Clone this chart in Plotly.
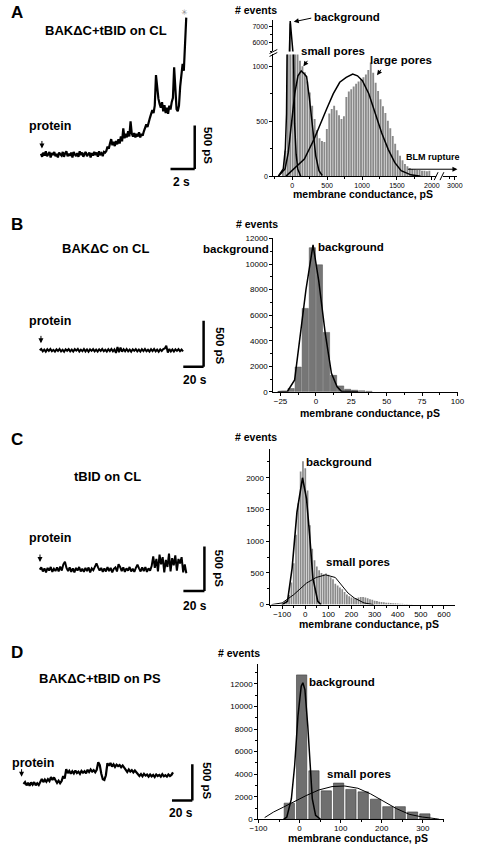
import plotly.graph_objects as go

W, H = 477, 850
def X(px): return px / W
def Y(py): return 1 - py / H

FONT = "Arial, Liberation Sans, Helvetica, sans-serif"

# ---------------- DATA ----------------
# Conductance traces (pS), uniformly sampled
trA_dt = 0.1   # s
trA_pS = [7, -28, 21, -14, 35, -21, 0, 28, -35, 14, -7, 28, -21, 7, -35, 21, 0, -14, 28, -28,
          14, 35, -21, 7, -14, 21, -35, 28, 0, -21, 14, -28, 35, -7, 21, -28, 7, 28, -21, 0,
          21, -35, 14, -14, 28, -7, 21, -28, 35, 0, 14, -21, 28, 21,
          40, 90, 65, 125, 175, 105, 145, 95, 155, 115,
          175, 125, 205, 150, 300, 185, 235, 195, 265, 205,
          380, 240, 205, 245, 195, 235, 205, 255, 195, 235,
          215, 265, 295, 345, 315, 385, 420, 465, 510, 475,
          560, 910, 720, 640, 580, 535, 600, 495, 565, 475,
          535, 465, 560, 515, 600, 650, 1000, 700, 520, 495,
          560, 780, 900, 1040, 960, 1250, 1570]

trB_dt = 1.5
trB_pS = [0, 14, -12, 8, -15, 12, -6, 15, -10, 5, -14, 10, -8, 14, -12, 6, -15, 11, -5, 13,
          -11, 8, -14, 12, -4, 15, -13, 7, -10, 14, -12, 9, -15, 10, -6, 13, -12, 8, -14, 11,
          -7, 15, -10, 6, -13, 12, -8, 14, -11, 9, -28, 35, -20, 30, -15, 12, -10, 14, -12, 8,
          -15, 11, -6, 13, -11, 7, -14, 12, -8, 15, -10, 6, -13, 11, -9, 14, -12, 8, -15, 10,
          -7, 13, 20, 50, -25, 14, -12, 9, -14, 11, -6, 13, -10, 8, -12]

trC_dt = 1.5
trC_pS = [0, 25, -20, 15, -30, 20, -10, 30, -25, 10,
          -15, 25, -20, 35, -10, 60, 90, 20, -15, 25,
          -25, 15, -30, 20, -10, 30, -20, 10, -25, 20,
          -15, 25, -30, 15, -5, 30, 70, 25, -10, 20,
          -25, 15, -20, 30, -15, 20, -30, 10, 25, -20,
          60, 30, -15, 25, -25, 15, -10, 30, -20, 10,
          -25, 20, 55, 15, -20, 25, -15, 30, -25, 15,
          -10, 40, 150, 20, 120, -20, 170, 60, 140, -30,
          110, 30, 180, -20, 130, 50, 160, -10, 120, 70,
          140, -30, 60, -40]

trD_dt = 1.5
trD_pS = [0, 25, -20, 15, -25, 20, -10, 25, -20, 10, -15, 20,
          70, 25, 60, 30, 65, 40,
          95, 55, 90, 50,
          15, 45, 10, 40,
          110, 75,
          205,
          150, 180, 140, 175, 145, 185, 150, 170, 140, 180, 155, 175, 145,
          195, 165, 200, 170, 190, 160, 195,
          300, 260,
          140, 65, 55, 120,
          285, 250, 290,
          240, 270, 235, 265, 245, 260, 230, 255, 225,
          195, 165, 200, 170, 190, 160, 185, 155,
          140, 110, 135, 105, 140, 115, 130,
          100, 130, 105, 125, 95, 130, 110, 125, 100, 135, 105, 120, 100, 130, 110, 125,
          160]

# Histogram A (bin width 35 pS)
hA_start, hA_bin = -135, 35
hA_counts = [40, 230, 2600, 7200, 1500, 1250, 1150, 1050, 1000, 945,
             860, 760, 640, 520, 420, 345, 320, 310, 430, 570,
             610, 640, 600, 555, 520, 545, 720, 770, 790, 815,
             840, 860, 880, 900, 925, 965, 1035, 940, 850, 775,
             700, 635, 575, 505, 435, 365, 295, 235, 185, 145,
             110, 90, 75, 65, 60, 55, 55, 50, 50, 45, 50]
fitA_bg_x = [-200, -130, -100, -83, -65, -50, -30, -12, 5, 32, 55, 78, 120]
fitA_bg_y = [0, 65, 250, 570, 1800, 4500, 7350, 4500, 1600, 480, 200, 65, 0]
fitA_sp_x = [-200, -104, -58, -12, 35, 81, 128, 173, 205, 243, 290, 336, 382, 429]
fitA_sp_y = [0, 65, 214, 482, 750, 913, 958, 930, 905, 720, 422, 185, 50, 6]
fitA_lp_x = [-90, 173, 310, 403, 495, 588, 680, 773, 866, 935, 1005, 1097, 1190, 1282, 1375, 1468, 1560, 1700, 1840]
fitA_lp_y = [0, 155, 333, 482, 616, 750, 854, 898, 928, 913, 869, 750, 571, 393, 244, 125, 50, 12, 0]

# Histogram B (bin width 5 pS)
hB_centers = [-17.5, -12.5, -7.5, -2.5, 2.5, 7.5, 12.5, 17.5, 22.5, 27.5, 32.5, 37.5]
hB_counts = [260, 1940, 6530, 11280, 9940, 4650, 1290, 465, 200, 130, 80, 40]
fitB_x = [-27, -20, -15, -7, -2, 2, 6.6, 11, 15, 18, 30]
fitB_y = [0, 50, 930, 8000, 11500, 8700, 4600, 1450, 400, 50, 0]

# Histogram C (bin width 10 pS)
hC_start, hC_bin = -100, 10
hC_counts = [15, 30, 60, 150, 350, 650, 1100, 1600, 2100, 2260,
             2150, 1800, 1250, 880, 700, 600, 540, 500, 480, 490,
             470, 430, 400, 330, 300, 270, 240, 200, 160, 130,
             110, 100, 100, 110, 120, 120, 110, 100, 85, 75,
             60, 55, 45, 40, 35, 30, 28, 25, 22, 20,
             18, 15, 12, 10, 8, 5, 4]
fitC_bg_x = [-100, -77, -57, -36, -12, 5.5, 19, 33, 54, 68]
fitC_bg_y = [0, 52, 573, 1458, 2000, 1667, 1094, 417, 52, 0]
fitC_sp_x = [-146, -100, -50, 5.5, 47, 88, 130, 157, 185, 212, 254, 295]
fitC_sp_y = [0, 26, 156, 339, 427, 469, 427, 313, 182, 104, 26, 0]

# Histogram D (bin width 30 pS)
hD_centers = [-25, 5, 35, 65, 95, 125, 155, 185, 215, 245, 275, 305]
hD_counts = [1430, 12800, 4300, 2520, 3210, 2650, 2430, 1780, 1120, 1120, 650, 480]
fitD_bg_x = [-39, -31, -20, -12, -4, 4, 8, 13, 20, 25, 31, 39, 51]
fitD_bg_y = [0, 200, 1800, 4750, 9140, 11800, 12100, 11500, 8270, 4750, 1800, 350, 0]
fitD_sp_x = [-85, -63, -39, -16, 16, 47, 79, 110, 142, 173, 205, 236, 267, 299, 330, 340]
fitD_sp_y = [150, 650, 1080, 1520, 2100, 2600, 2900, 2950, 2750, 2250, 1600, 940, 440, 200, 60, 0]

# ---------------- FIGURE ----------------
fig = go.Figure()
layout = dict(width=W, height=H, margin=dict(l=0, r=0, t=0, b=0),
              paper_bgcolor='white', plot_bgcolor='white', showlegend=False,
              barmode='overlay', hovermode=False, font=dict(family=FONT, color='black'))

def axname(kind, n):
    return f'{kind}axis' if n == 1 else f'{kind}axis{n}'

def aid(kind, n):
    return kind if n == 1 else f'{kind}{n}'

def trace_axes(n, xd, yd, xr, yr):
    layout[axname('x', n)] = dict(domain=[X(xd[0]), X(xd[1])], range=xr, visible=False,
                                  anchor=aid('y', n), fixedrange=True)
    layout[axname('y', n)] = dict(domain=[Y(yd[1]), Y(yd[0])], range=yr, visible=False,
                                  anchor=aid('x', n), fixedrange=True)

def axstyle(size):
    return dict(showline=True, linecolor='black', linewidth=1, ticks='outside', ticklen=3,
                tickwidth=1, tickcolor='black', showgrid=False, zeroline=False,
                tickformat='d', exponentformat='none', fixedrange=True,
                tickfont=dict(size=size, family=FONT, color='black'))

def hist_axes(n, xd, yd, xr, yr, xdt, xmn, ydt, ymn, fs, xextra=None, yextra=None):
    xa = axstyle(fs)
    xa.update(domain=[X(xd[0]), X(xd[1])], range=xr, anchor=aid('y', n), tick0=0, dtick=xdt,
              ticklabelstandoff=-1,
              minor=dict(ticks='outside', ticklen=2, tick0=0, dtick=xmn, tickcolor='black'))
    if xextra: xa.update(xextra)
    ya = axstyle(fs)
    ya.update(domain=[Y(yd[1]), Y(yd[0])], range=yr, anchor=aid('x', n), tick0=0, dtick=ydt,
              minor=dict(ticks='outside', ticklen=2, tick0=0, dtick=ymn, tickcolor='black'))
    if yextra: ya.update(yextra)
    layout[axname('x', n)] = xa
    layout[axname('y', n)] = ya

def add_trace_line(n, dt, vals, w=1.7):
    t = [i * dt for i in range(len(vals))]
    fig.add_trace(go.Scatter(x=t, y=vals, mode='lines', line=dict(color='black', width=w),
                             xaxis=aid('x', n), yaxis=aid('y', n), hoverinfo='skip'))

def add_bars(n_x, n_y, xs, ys, width, color, lcolor, lw):
    fig.add_trace(go.Bar(x=xs, y=ys, width=width, marker=dict(color=color, line=dict(color=lcolor, width=lw)),
                         xaxis=aid('x', n_x), yaxis=aid('y', n_y), hoverinfo='skip'))

def add_fit(n_x, n_y, xs, ys, w=1.5):
    fig.add_trace(go.Scatter(x=xs, y=ys, mode='lines', line=dict(color='black', width=w),
                             xaxis=aid('x', n_x), yaxis=aid('y', n_y), hoverinfo='skip', cliponaxis=True))

shapes = []
def scalebar(n, x_end, y_bot, tlen, ylen=500):
    xr, yr = aid('x', n), aid('y', n)
    shapes.append(dict(type='line', xref=xr, yref=yr, x0=x_end, x1=x_end, y0=y_bot, y1=y_bot + ylen,
                       line=dict(color='black', width=2.5)))
    shapes.append(dict(type='line', xref=xr, yref=yr, x0=x_end - tlen, x1=x_end, y0=y_bot, y1=y_bot,
                       line=dict(color='black', width=2.5)))

# ---- Panel A ----
trace_axes(1, (15, 215), (5, 185), [-1.44, 14.56], [-375, 1670])
add_trace_line(1, trA_dt, trA_pS, 2.2)
scalebar(1, 12.7, -167, 2)

hA_centers = [hA_start + hA_bin * i for i in range(len(hA_counts))]
hist_axes(2, (273, 463), (51, 174), [-271, 2368], [0, 1107], 500, 250, 500, 250, 7,
          xextra=dict(tickmode='array', tickvals=[0, 500, 1000, 1500, 2000, 2330],
                      ticktext=['0', '500', '1000', '1500', '2000', '3000']))
# upper (broken) section of y axis
ya3 = axstyle(7)
ya3.update(domain=[Y(48), Y(16)], range=[5470, 7430], anchor='x2', tickvals=[6000, 7000],
           minor=dict(ticks='outside', ticklen=2, tickvals=[5500, 6500], tickcolor='black'))
layout['yaxis3'] = ya3
for ny in (2, 3):
    add_bars(2, ny, hA_centers, hA_counts, hA_bin * 0.78, '#8a8a8a', '#8a8a8a', 0)
    add_fit(2, ny, fitA_bg_x, fitA_bg_y, 1.5)
add_fit(2, 2, fitA_sp_x, fitA_sp_y, 1.5)
add_fit(2, 2, fitA_lp_x, fitA_lp_y, 1.5)

# axis breaks (decoration)
shapes.append(dict(type='line', xref='paper', yref='paper', x0=X(269), x1=X(277), y0=Y(53), y1=Y(49),
                   line=dict(color='black', width=1)))
shapes.append(dict(type='line', xref='paper', yref='paper', x0=X(269), x1=X(277), y0=Y(50), y1=Y(46),
                   line=dict(color='black', width=1)))
shapes.append(dict(type='rect', xref='paper', yref='paper', x0=X(441), x1=X(448), y0=Y(176), y1=Y(172),
                   fillcolor='white', line=dict(width=0)))
shapes.append(dict(type='line', xref='paper', yref='paper', x0=X(439), x1=X(443), y0=Y(178), y1=Y(170),
                   line=dict(color='black', width=1)))
shapes.append(dict(type='line', xref='paper', yref='paper', x0=X(445), x1=X(449), y0=Y(178), y1=Y(170),
                   line=dict(color='black', width=1)))

# ---- Panel B ----
trace_axes(4, (15, 215), (290, 385), [-15.9, 174.6], [-374.7, 642.4])
add_trace_line(4, trB_dt, trB_pS, 2.0)
scalebar(4, 161.2, -179, 20)
hist_axes(5, (273, 464), (237, 392), [-30, 100.7], [0, 12000], 25, 12.5, 2000, 1000, 8)
add_bars(5, 5, hB_centers, hB_counts, 4.4, '#767676', '#505050', 0.5)
add_fit(5, 5, fitB_x, fitB_y, 1.5)

# ---- Panel C ----
trace_axes(6, (15, 215), (500, 600), [-15.4, 168.9], [-314, 796.7])
add_trace_line(6, trC_dt, trC_pS, 2.0)
scalebar(6, 156.7, -240, 20)
hC_centers = [hC_start + hC_bin * i for i in range(len(hC_counts))]
hist_axes(7, (269, 460), (450, 607), [-154.6, 645.8], [0, 2450], 100, 50, 500, 250, 8)
add_bars(7, 7, hC_centers, hC_counts, hC_bin * 0.75, '#8a8a8a', '#8a8a8a', 0)
add_fit(7, 7, fitC_bg_x, fitC_bg_y, 1.6)
add_fit(7, 7, fitC_sp_x, fitC_sp_y, 1.0)

# ---- Panel D ----
trace_axes(8, (5, 215), (720, 815), [-9.5, 190.5], [-363.8, 930.5])
add_trace_line(8, trD_dt, trD_pS, 2.2)
scalebar(8, 166, -227.5, 20)
hist_axes(9, (257.3, 449.3), (666.7, 824), [-100.7, 352], [0, 13800], 100, 50, 2000, 1000, 8,
          xextra=dict(ticklabelstandoff=-2))
add_bars(9, 9, hD_centers, hD_counts, 25, '#6f6f6f', '#3a3a3a', 0.6)
add_fit(9, 9, fitD_bg_x, fitD_bg_y, 1.5)
add_fit(9, 9, fitD_sp_x, fitD_sp_y, 1.0)

# ---------------- TEXT ----------------
anns = []
def ann(text, px, py, size=11.5, bold=True, xanchor='center', angle=0, color='black'):
    t = f'<b>{text}</b>' if bold else text
    anns.append(dict(text=t, x=X(px), y=Y(py), xref='paper', yref='paper', showarrow=False,
                     xanchor=xanchor, yanchor='middle', textangle=angle,
                     font=dict(size=size, family=FONT, color=color)))

def arrow(hx, hy, tx, ty, w=1):
    anns.append(dict(text='', x=X(hx), y=Y(hy), xref='paper', yref='paper', showarrow=True,
                     ax=tx - hx, ay=ty - hy, axref='pixel', ayref='pixel',
                     arrowhead=2, arrowsize=1, arrowwidth=w, arrowcolor='black'))

# panel letters
for L, py in (('A', 9), ('B', 223), ('C', 440), ('D', 655)):
    ann(L, 0, py, 17, xanchor='left')

# titles
ann('BAKΔC+tBID on CL', 100, 27, 13)
ann('BAKΔC on CL', 100, 247, 13)
ann('tBID on CL', 102, 478, 13)
ann('BAKΔC+tBID on PS', 94, 682, 13)

# protein labels + arrows
for px, py, ax_, ay_ in ((42, 123, 34, 146), (42, 320, 33, 343), (42, 540, 32, 564), (25, 767, 13, 781)):
    ann('protein', px, py, 12.5)
    arrow(ax_, ay_, ax_, ay_ - 9)

# scale bar labels
ann('500 pS', 205, 143, 11.5, angle=90)
ann('2 s', 178, 180, 12)
ann('500 pS', 218, 345, 11.5, angle=90)
ann('20 s', 192, 380, 12)
ann('500 pS', 217, 570, 11.5, angle=90)
ann('20 s', 192, 608, 12)
ann('500 pS', 205, 785, 11.5, angle=90)
ann('20 s', 178, 818, 12)
ann('✳', 181, 9, 8, bold=False, color='#888888')

# histogram A labels
ann('# events', 255, 6, 10.5)
ann('background', 349, 13, 11.5)
arrow(294, 18, 313, 14)
ann('small pores', 335, 47, 11.5)
arrow(304, 63, 309, 56)
ann('large pores', 405, 57, 11.5)
arrow(380, 72, 385, 65)
ann('BLM rupture', 438, 155, 9)
arrow(463, 167, 412, 167)
ann('membrane conductance, pS', 366, 192, 10.5)

# histogram B labels
ann('# events', 256, 222, 10.5)
ann('background', 234, 248, 11.5)
ann('background', 353, 246, 11.5)
ann('membrane conductance, pS', 373, 413, 10.5)

# histogram C labels
ann('# events', 255, 438, 10.5)
ann('background', 341, 463, 11.5)
ann('small pores', 360, 564, 11.5)
ann('membrane conductance, pS', 372, 627, 10.5)

# histogram D labels
ann('# events', 237, 656, 10.5)
ann('background', 344, 685, 11.5)
ann('small pores', 361, 778, 11.5)
ann('membrane conductance, pS', 360, 843, 10.5)

layout['shapes'] = shapes
layout['annotations'] = anns
fig.update_layout(**layout)
fig.write_html('out.html', config={'displayModeBar': False, 'staticPlot': True},
               post_script="document.body.style.margin='0';document.body.style.overflow='hidden';")
